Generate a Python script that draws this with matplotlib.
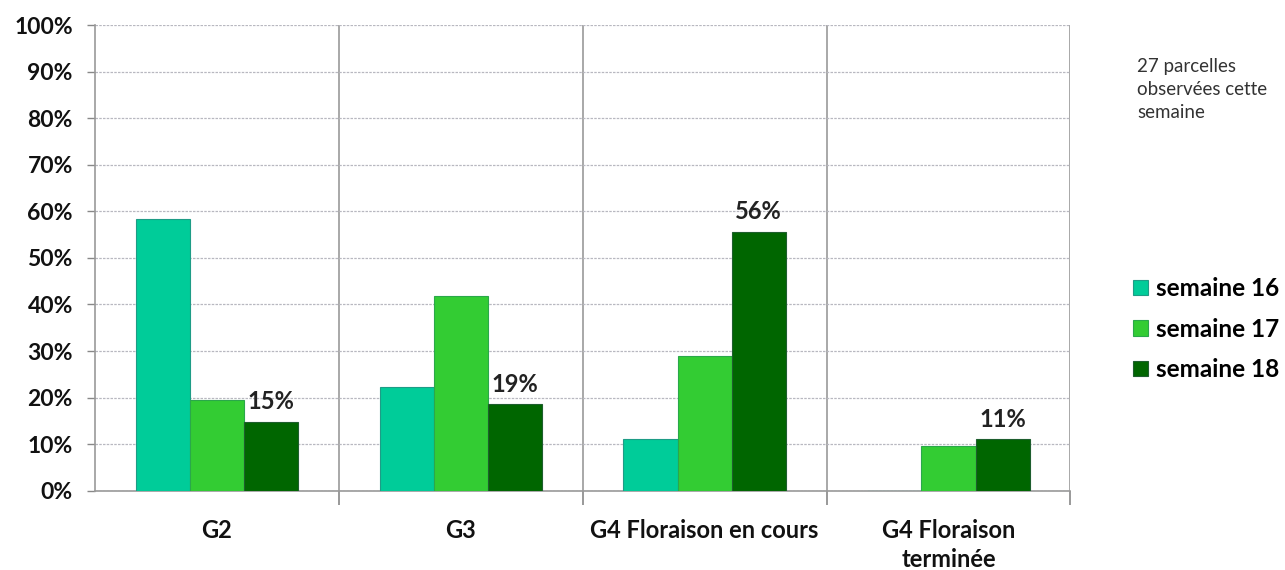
import matplotlib.pyplot as plt
import numpy as np

plt.rcParams['font.family'] = ['Lato', 'DejaVu Sans']

categories = ["G2", "G3", "G4 Floraison en cours", "G4 Floraison\nterminée"]
semaine16 = [58.3, 22.2, 11.1, 0.0]
semaine17 = [19.4, 41.9, 29.0, 9.7]
semaine18 = [14.8, 18.6, 55.6, 11.1]
series_names = ["semaine 16", "semaine 17", "semaine 18"]
colors = ["#00CC99", "#33CC33", "#006600"]
edges = ["#1E9C86", "#2AA84A", "#1E5E2E"]


def paint():
    fig = plt.figure(figsize=(12.85, 5.7), dpi=100)
    ax = fig.add_axes([0.074, 0.139, 0.759, 0.817])

    x = np.arange(len(categories))
    w = 0.222
    handles = []
    for i, vals in enumerate([semaine16, semaine17, semaine18]):
        b = ax.bar(x + (i - 1) * w, vals, w, color=colors[i], edgecolor=edges[i],
                   linewidth=0.8, label=series_names[i], zorder=3)
        handles.append(b)

    # labels only on last week
    for xi, v in zip(x, semaine18):
        ax.text(xi + w, v + 1.8, "%d%%" % round(v), ha="center", va="bottom",
                fontsize=17, fontweight="bold", color="#222222")

    ax.set_xlim(-0.5, len(categories) - 0.5)
    ax.set_ylim(0, 100)
    ax.set_yticks(np.arange(0, 101, 10))
    ax.set_yticklabels(["%d%%" % v for v in range(0, 101, 10)],
                       fontsize=16.5, fontweight="bold", color="#111111")
    ax.set_xticks(x)
    ax.set_xticklabels(categories, fontsize=17, fontweight="bold", color="#111111",
                       linespacing=1.35)
    ax.set_xticks(np.arange(0.5, len(categories), 1), minor=True)
    ax.tick_params(axis="x", which="major", length=0, pad=20)
    ax.tick_params(axis="x", which="minor", length=10, color="#888888", width=1.2)
    ax.tick_params(axis="y", length=6, color="#888888", width=1.0, pad=10)

    ax.grid(axis="y", color="#B8B8C0", linewidth=0.9, linestyle=(0, (2, 1)), zorder=0)
    ax.grid(axis="x", which="minor", color="#999999", linewidth=1.2, zorder=0)

    for s in ["top", "right"]:
        ax.spines[s].set_visible(False)
    ax.spines["left"].set_color("#999999")
    ax.spines["left"].set_linewidth(1.2)
    ax.spines["bottom"].set_color("#999999")
    ax.spines["bottom"].set_linewidth(1.2)

    fig.legend(handles=handles, labels=series_names, loc="upper left",
               bbox_to_anchor=(0.882, 0.514), frameon=False,
               prop={"weight": "bold", "size": 17.5}, handlelength=0.6,
               handleheight=0.6, handletextpad=0.35, labelspacing=0.72,
               borderaxespad=0, borderpad=0)

    fig.text(0.885, 0.898, "27 parcelles\nobservées cette\nsemaine", ha="left", va="top",
             fontsize=13.5, color="#333333", linespacing=1.42)

    fig.savefig("out.png", dpi=100)


if __name__ == '__main__':
    paint()
